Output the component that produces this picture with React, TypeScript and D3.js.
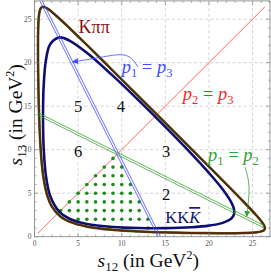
import React from 'react';
import * as d3 from 'd3';

type Pt = [number, number];

// Dalitz boundary of B -> K pi pi (upper branch, then lower branch back)
const kpipiUpper: Pt[] = [
  [0.401, 21.66], [0.405, 22.7], [0.42, 23.74], [0.45, 24.63], [0.5, 25.34],
  [0.6, 25.96], [0.7, 26.23], [0.85, 26.38], [1.0, 26.42], [1.4, 26.27],
  [2, 25.83], [3, 24.94], [4, 23.99], [6, 22.04], [9, 19.06], [12, 16.07],
  [15, 13.08], [18, 10.07], [21, 7.05], [24, 3.99], [25.5, 2.38], [26, 1.78],
  [26.3, 1.34], [26.4, 1.105], [26.417, 0.987],
];
const kpipiLower: Pt[] = [
  [26.4, 0.886], [26.3, 0.75], [26, 0.611], [25.5, 0.518], [24, 0.427],
  [21, 0.402], [18, 0.432], [15, 0.495], [12, 0.6], [9, 0.784], [6, 1.159],
  [4, 1.727], [3, 2.299], [2, 3.45], [1.4, 4.95], [1.0, 6.985], [0.85, 8.267],
  [0.7, 10.15], [0.6, 12.0], [0.5, 14.81], [0.45, 16.95], [0.42, 18.87],
  [0.405, 20.47],
];

// Dalitz boundary of B -> K K Kbar
const kkkUpper: Pt[] = [
  [0.975, 13.81], [1.0, 15.91], [1.05, 17.33], [1.3, 20.23], [1.8, 22.13],
  [2.85, 22.9], [4, 22.54], [6, 21.14], [9, 18.48], [12, 15.61], [15, 12.62],
  [18, 9.52], [20, 7.33], [21.5, 5.54], [22.5, 4.07], [22.8, 3.41],
  [22.88, 3.1], [22.898, 2.85],
];
const kkkLower: Pt[] = [
  [22.88, 2.63], [22.8, 2.39], [22.5, 2.03], [21.5, 1.56], [20, 1.27],
  [18, 1.09], [15, 0.983], [12, 0.993], [9, 1.118], [6, 1.467], [4, 2.064],
  [2.85, 2.85], [1.8, 4.67], [1.3, 7.075], [1.05, 10.23], [1.0, 11.7],
];

// equal-momentum lines
const lineP2P3: Pt[] = [[0.401, 0.401], [26.417, 26.417]];
const lineP1P3: Pt[] = [[0.7, 27.2], [14.3, 0]];
const lineP1P2: Pt[] = [[0.4, 14.1], [26.3, 1.15]];

// grid points (s13, list of s12)
const dotRows: [number, number[]][] = [
  [9, [9]],
  [8, [8, 9, 10]],
  [7, [7, 8, 9, 10]],
  [6, [6, 7, 8, 9, 10, 11]],
  [5, [5, 6, 7, 8, 9, 10, 11]],
  [4, [4, 5, 6, 7, 8, 9, 10, 11, 12]],
  [3, [3, 4, 5, 6, 7, 8, 9, 10, 11, 12]],
  [2, [5, 6, 7, 8, 9, 10, 11, 12, 13]],
  [1, [13]],
];

const tickLabels = [0, 5, 10, 15, 20, 25];

// region numbers: [label, s12, s13]
const regions: [string, number, number][] = [
  ['5', 5.0, 14.3], ['4', 9.9, 14.3], ['3', 15.1, 9.2],
  ['6', 5.0, 9.2], ['2', 15.1, 4.2],
];

const W = 271;
const H = 273;
const serif = 'Liberation Serif, DejaVu Serif, serif';

const x = d3.scaleLinear().domain([0, 27]).range([34.5, 270]);
const y = d3.scaleLinear().domain([0, 27.1]).range([236.7, 0.9]);

const boundary = d3
  .line<Pt>()
  .x((d) => x(d[0]))
  .y((d) => y(d[1]))
  .curve(d3.curveCatmullRomClosed.alpha(0.5));

const arc = d3.line<Pt>().x((d) => x(d[0])).y((d) => y(d[1])).curve(d3.curveNatural);

// two thin parallel strokes, gap in pixels
function doubleLine(pts: Pt[], gap: number) {
  const a = [x(pts[0][0]), y(pts[0][1])];
  const b = [x(pts[1][0]), y(pts[1][1])];
  const dx = b[0] - a[0];
  const dy = b[1] - a[1];
  const L = Math.hypot(dx, dy);
  const nx = (-dy / L) * gap;
  const ny = (dx / L) * gap;
  return [1, -1].map((s) => ({
    x1: a[0] + s * nx, y1: a[1] + s * ny, x2: b[0] + s * nx, y2: b[1] + s * ny,
  }));
}

export default function App() {
  const x0 = x.range()[0];
  const x1 = x.range()[1];
  const yb = y.range()[0];
  const yt = y.range()[1];
  const units = x.ticks(27);
  const blue = '#3f4cff';
  const green = '#36a236';

  const dots: Pt[] = [];
  dotRows.forEach(([s13, xs]) => xs.forEach((s12) => dots.push([s12, s13])));

  const outer = boundary([...kpipiUpper, ...kpipiLower]) || '';

  return (
    <svg width={W} height={H} style={{ position: 'absolute', left: 0, top: 0 }} fontFamily={serif}>
      <defs>
        <clipPath id="frame">
          <rect x={x0} y={yt} width={x1 - x0} height={yb - yt} />
        </clipPath>
        <marker id="ab" viewBox="0 0 10 10" refX="10" refY="5" markerWidth="7" markerHeight="6" orient="auto" markerUnits="userSpaceOnUse">
          <path d="M0,0 L10,5 L0,10 z" fill={blue} />
        </marker>
        <marker id="ag" viewBox="0 0 10 10" refX="10" refY="5" markerWidth="7" markerHeight="6" orient="auto" markerUnits="userSpaceOnUse">
          <path d="M0,0 L10,5 L0,10 z" fill={green} />
        </marker>
      </defs>

      {/* grid */}
      {tickLabels.filter((t) => t > 0).map((t) => (
        <g key={'g' + t} stroke="#c8c8c8" strokeWidth={0.8} strokeDasharray="3,2.5">
          <line x1={x(t)} x2={x(t)} y1={yb} y2={yt} />
          <line x1={x0} x2={x1} y1={y(t)} y2={y(t)} />
        </g>
      ))}

      <g clipPath="url(#frame)">
        {/* p2 = p3 */}
        <line x1={x(lineP2P3[0][0])} y1={y(lineP2P3[0][1])} x2={x(lineP2P3[1][0])} y2={y(lineP2P3[1][1])}
          stroke="#ff3a3a" strokeWidth={0.8} />

        {dots.map((d, i) => (
          <circle key={i} cx={x(d[0])} cy={y(d[1])} r={1.8} fill="#179017" />
        ))}

        <path d={boundary([...kkkUpper, ...kkkLower]) || ''} fill="none" stroke="#0e0e72" strokeWidth={2.6} />
        <path d={outer} fill="none" stroke="#3c7a1c" strokeWidth={2.6} />
        <path d={outer} fill="none" stroke="#5e2410" strokeWidth={1.9} />

        {doubleLine(lineP1P3, 1.1).map((l, i) => (
          <line key={'b' + i} {...l} stroke={blue} strokeWidth={0.8} />
        ))}
        {doubleLine(lineP1P2, 1.1).map((l, i) => (
          <line key={'n' + i} {...l} stroke={green} strokeWidth={0.8} />
        ))}
      </g>

      {/* arrows */}
      <path d={arc([[11.87, 19.5], [10.4, 20.85], [7.5, 20.6], [4.3, 20.08]]) || ''} fill="none"
        stroke={blue} strokeWidth={0.8} markerEnd="url(#ab)" />
      <path d={arc([[24.14, 8.0], [24.6, 5.6], [24.31, 2.26]]) || ''} fill="none"
        stroke={green} strokeWidth={0.8} markerEnd="url(#ag)" />

      {/* labels */}
      <text x={x(5.05)} y={y(23.4)} fontSize={18} fill="#8a1010">Kππ</text>
      <text x={x(10.0)} y={y(18.8)} fontSize={18.5} fill={blue} fontStyle="italic">
        p<tspan fontSize={12.5} dy={4} fontStyle="normal">1</tspan>
        <tspan dy={-4} fontStyle="normal">{' = '}</tspan>p
        <tspan fontSize={12.5} dy={4} fontStyle="normal">3</tspan>
      </text>
      <text x={x(17.0)} y={y(15.7)} fontSize={18.5} fill="#f02a2a" fontStyle="italic">
        p<tspan fontSize={12.5} dy={4} fontStyle="normal">2</tspan>
        <tspan dy={-4} fontStyle="normal">{' = '}</tspan>p
        <tspan fontSize={12.5} dy={4} fontStyle="normal">3</tspan>
      </text>
      <text x={x(19.9)} y={y(8.7)} fontSize={18.5} fill={green} fontStyle="italic">
        p<tspan fontSize={12.5} dy={4} fontStyle="normal">1</tspan>
        <tspan dy={-4} fontStyle="normal">{' = '}</tspan>p
        <tspan fontSize={12.5} dy={4} fontStyle="normal">2</tspan>
      </text>
      <text x={x(15.0)} y={y(1.57)} fontSize={16.5} fill="#12127a">
        KK<tspan fontStyle="italic" style={{ textDecoration: 'overline' }}>K</tspan>
      </text>
      {regions.map(([t, a, b]) => (
        <text key={t} x={x(a)} y={y(b)} fontSize={16.5} textAnchor="middle" fill="#111">{t}</text>
      ))}

      {/* frame + ticks */}
      <rect x={x0} y={yt} width={x1 - x0} height={yb - yt} fill="none" stroke="#8a8a8a" strokeWidth={0.9} />
      <g stroke="#8a8a8a" strokeWidth={0.7}>
        {units.map((t) => {
          const len = t % 5 === 0 ? 4 : 2;
          return (
            <g key={'t' + t}>
              <line x1={x(t)} x2={x(t)} y1={yb} y2={yb - len} />
              <line x1={x(t)} x2={x(t)} y1={yt} y2={yt + len} />
              <line x1={x0} x2={x0 + len} y1={y(t)} y2={y(t)} />
              <line x1={x1} x2={x1 - len} y1={y(t)} y2={y(t)} />
            </g>
          );
        })}
      </g>
      {tickLabels.map((t) => (
        <g key={'l' + t} fontSize={7.5} fill="#555">
          <text x={x(t)} y={yb + 9} textAnchor="middle">{t}</text>
          <text x={x0 - 3} y={y(t) + 2.5} textAnchor="end">{t}</text>
        </g>
      ))}

      {/* axis titles */}
      <text x={(x0 + x1) / 2 - 4} y={267} textAnchor="middle" fontSize={19.5} fill="#111">
        <tspan fontStyle="italic">s</tspan>
        <tspan fontSize={13} dy={4}>12</tspan>
        <tspan dy={-4}>{' (in GeV'}</tspan>
        <tspan fontSize={12} dy={-8}>2</tspan>
        <tspan dy={8}>)</tspan>
      </text>
      <text transform={`translate(21.5,${(yt + yb) / 2 - 4}) rotate(-90)`} textAnchor="middle" fontSize={19.5} fill="#111">
        <tspan fontStyle="italic">s</tspan>
        <tspan fontSize={13} dy={4}>13</tspan>
        <tspan dy={-4}>{' (in GeV'}</tspan>
        <tspan fontSize={12} dy={-8}>2</tspan>
        <tspan dy={8}>)</tspan>
      </text>
    </svg>
  );
}
